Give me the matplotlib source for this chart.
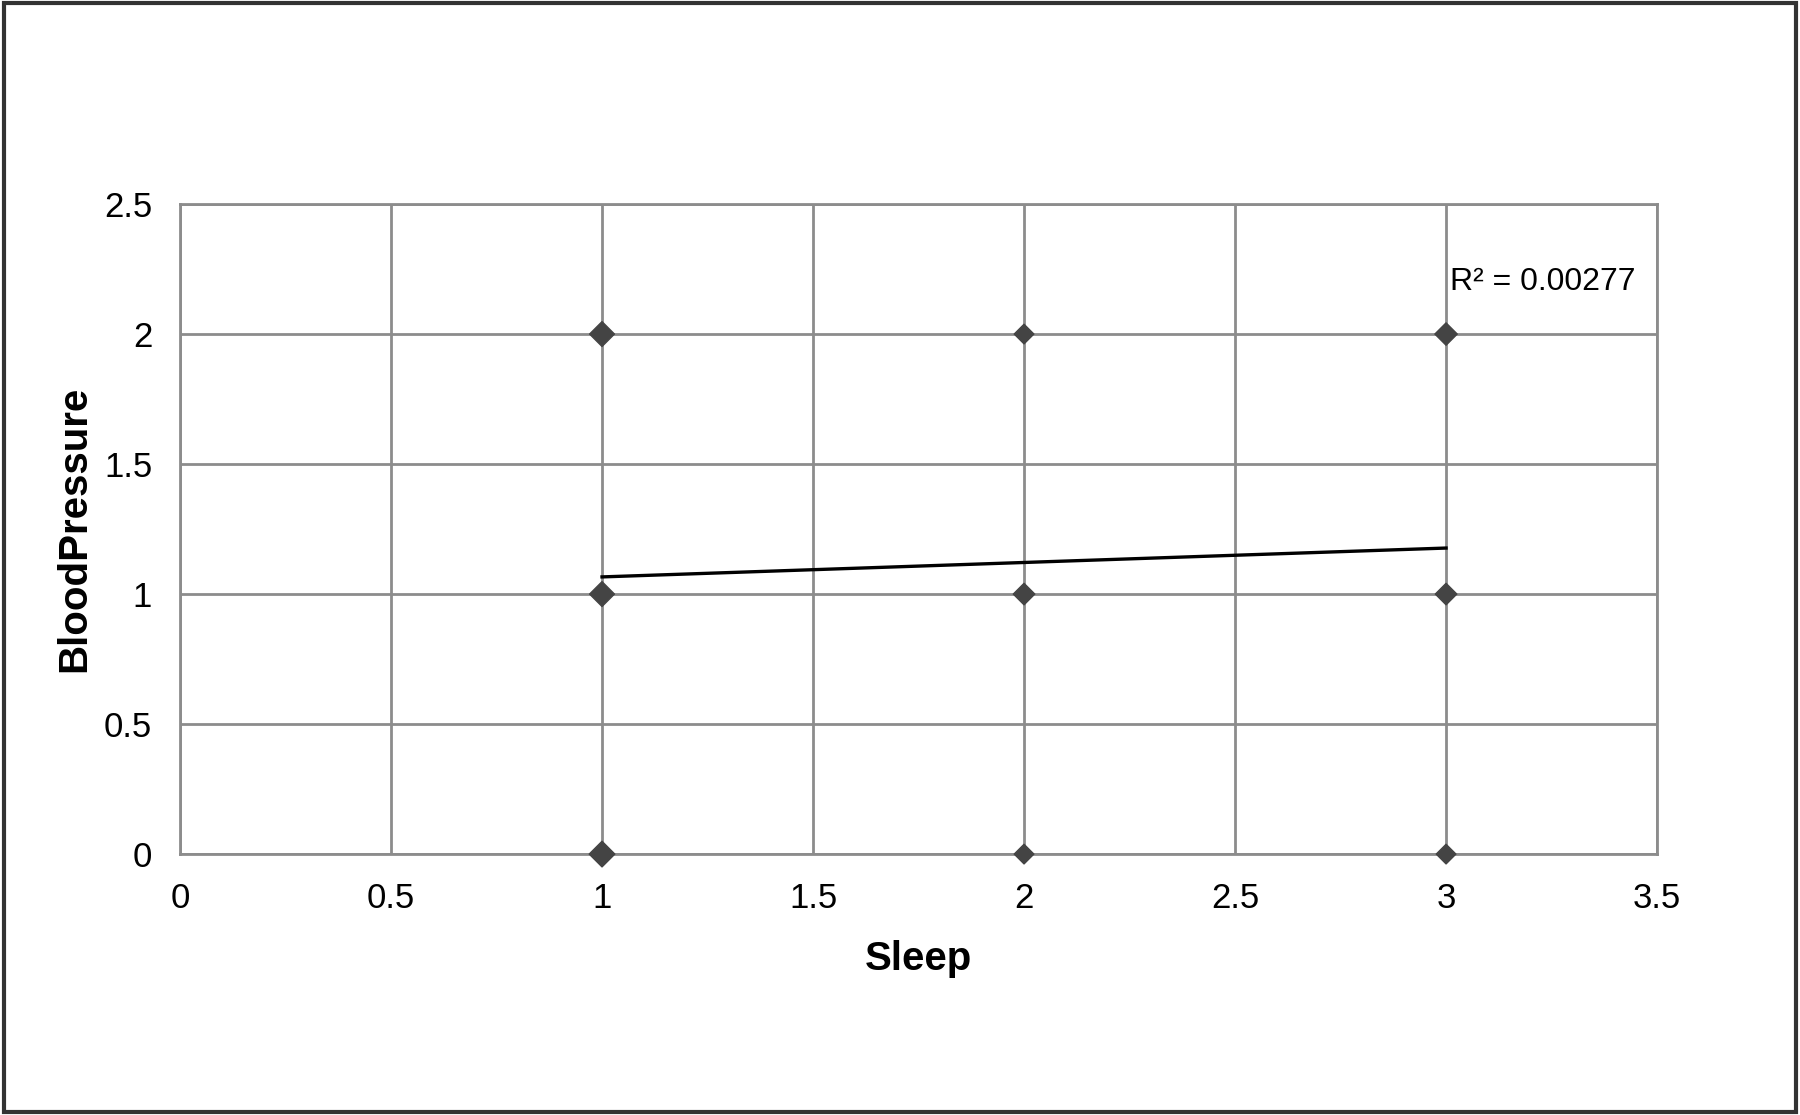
import numpy as np
import matplotlib
matplotlib.use('Agg')
import matplotlib.pyplot as plt
from matplotlib.patches import Rectangle

plt.rcParams['font.family'] = ['Liberation Sans', 'DejaVu Sans']

# Datos del grafico
sleep = [1, 1, 1, 2, 2, 2, 3, 3, 3]
blood_pressure = [0, 1, 2, 0, 1, 2, 0, 1, 2]
marker_size = [170, 160, 160, 100, 120, 100, 100, 120, 130]
trend_x = [1, 3]
trend_y = [1.066, 1.177]
r2_text = "R² = 0.00277"
x_ticks = [0, 0.5, 1, 1.5, 2, 2.5, 3, 3.5]
y_ticks = [0, 0.5, 1, 1.5, 2, 2.5]

fig = plt.figure(figsize=(18, 11.15), dpi=100)
ax = fig.add_axes([0.1, 0.234, 0.8206, 0.583])

# Marco exterior
fig.patches.append(Rectangle((0.002, 0.003), 0.996, 0.994, transform=fig.transFigure,
                             fill=False, edgecolor='#333333', linewidth=3))

ax.set_xlim(0, 3.5)
ax.set_ylim(0, 2.5)
ax.set_xticks(x_ticks)
ax.set_yticks(y_ticks)
ax.set_xticklabels([f"{t:g}" for t in x_ticks], fontsize=25)
ax.set_yticklabels([f"{t:g}" for t in y_ticks], fontsize=25)
ax.tick_params(axis='y', length=0, pad=20)
ax.tick_params(axis='x', length=0, pad=20)
ax.grid(True, color='#8c8c8c', linewidth=2)
ax.set_axisbelow(True)
for s in ax.spines.values():
    s.set_color('#8c8c8c')
    s.set_linewidth(2)

ax.scatter(sleep, blood_pressure, marker='D', s=marker_size, color='#444444',
           zorder=3, clip_on=False)
ax.plot(trend_x, trend_y, color='black', linewidth=2.4, zorder=4)
ax.text(3.01, 2.2, r2_text, fontsize=23, ha='left', va='center')

ax.set_xlabel("Sleep", fontsize=29, fontweight='bold', labelpad=18)
ax.set_ylabel("BloodPressure", fontsize=29, fontweight='bold', labelpad=8)

plt.savefig("out.png", dpi=100)
